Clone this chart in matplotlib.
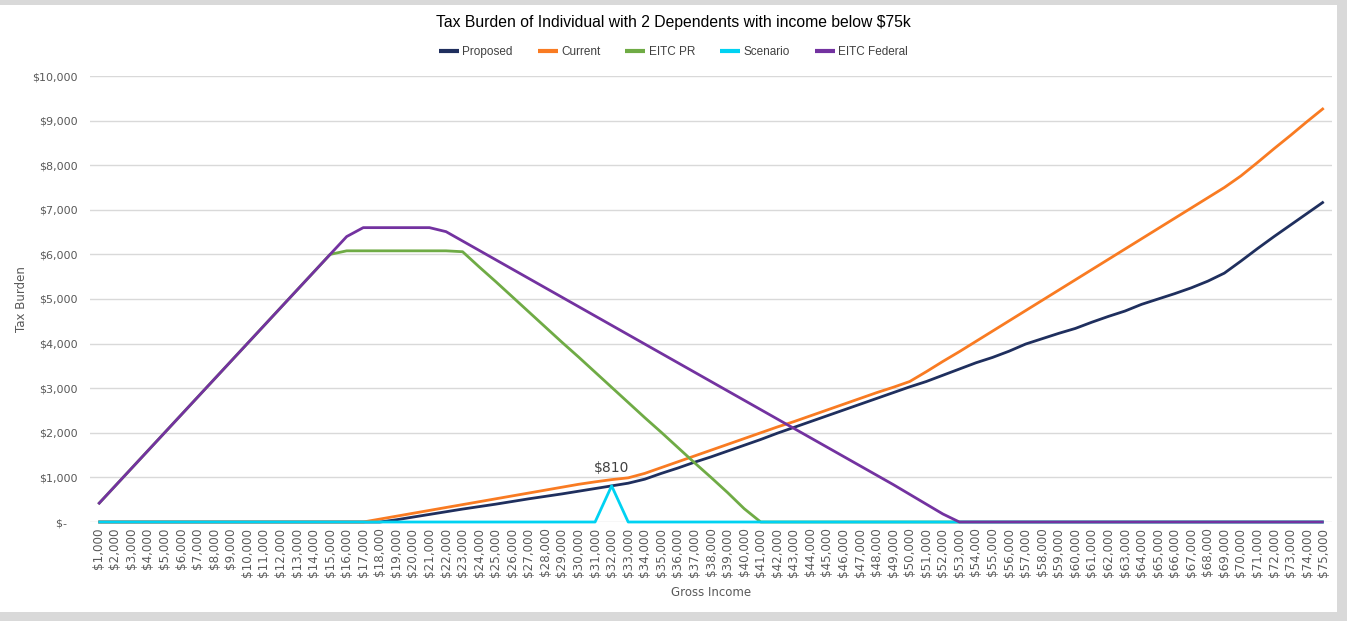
import numpy as np
import matplotlib.pyplot as plt
from matplotlib.patches import Rectangle
from matplotlib.ticker import FuncFormatter

# 収入区分 $1,000 - $75,000
income = list(range(1000, 76000, 1000))

##系列データ
proposed = [0]*17 + [0, 50, 110, 170, 230, 290, 345, 400, 460, 520, 575, 630, 690, 750, 810,
                     870, 960, 1090, 1210, 1340, 1460, 1590, 1720, 1850, 1990, 2120, 2250, 2380,
                     2510, 2640, 2770, 2900, 3030, 3150, 3290, 3430, 3570, 3690, 3830, 3990, 4110,
                     4230, 4340, 4480, 4610, 4730, 4880, 5000, 5120, 5250, 5400, 5580, 5850, 6130,
                     6400, 6660, 6920, 7180]
current = [0]*16 + [0, 65, 130, 195, 260, 325, 390, 455, 520, 585, 650, 715, 780, 845, 900, 950,
                    990, 1090, 1220, 1350, 1480, 1610, 1740, 1870, 2000, 2130, 2250, 2380, 2510,
                    2640, 2770, 2900, 3020, 3150, 3370, 3600, 3820, 4050, 4280, 4510, 4740, 4970,
                    5200, 5430, 5660, 5890, 6120, 6350, 6580, 6810, 7040, 7270, 7500, 7760, 8060,
                    8370, 8670, 8980, 9280]
eitc_pr = [400, 800, 1200, 1600, 2000, 2400, 2800, 3200, 3600, 4000, 4400, 4800, 5200, 5600, 6000,
           6080, 6080, 6080, 6080, 6080, 6080, 6080, 6060, 5720, 5390, 5050, 4710, 4370, 4030,
           3700, 3360, 3020, 2680, 2340, 2010, 1670, 1330, 1000, 660, 300, 0] + [0]*34
scenario = [0]*31 + [810] + [0]*43
eitc_fed = [400, 800, 1200, 1600, 2000, 2400, 2800, 3200, 3600, 4000, 4400, 4800, 5200, 5600, 6000,
            6400, 6600, 6600, 6600, 6600, 6600, 6510, 6300, 6090, 5880, 5670, 5460, 5250, 5040,
            4830, 4620, 4410, 4200, 3990, 3780, 3570, 3360, 3150, 2940, 2730, 2520, 2310, 2100,
            1890, 1680, 1470, 1260, 1050, 840, 620, 400, 180, 0] + [0]*22

series = [('Proposed', proposed, '#1f2f5e'),
          ('Current', current, '#f97b22'),
          ('EITC PR', eitc_pr, '#6fab45'),
          ('Scenario', scenario, '#00d2f2'),
          ('EITC Federal', eitc_fed, '#7332a0')]

narrow = ['Liberation Sans', 'DejaVu Sans']

fig = plt.figure(figsize=(13.47, 6.21), dpi=100, facecolor='#d9d9d9')
fig.patches.append(Rectangle((0, 9/621), 1337/1347, 1 - 14/621, transform=fig.transFigure,
                             facecolor='white', edgecolor='none', zorder=-1))
ax = fig.add_axes([90/1347, 1 - 522/621, 1242/1347, 446/621])

x = np.arange(len(income))
for name, vals, col in series:
    ax.plot(x, vals, color=col, lw=2.0, label=name, solid_capstyle='butt', clip_on=False)

#データラベル
ax.annotate('$810', (31, 810), xytext=(0, 8), textcoords='offset points',
            ha='center', va='bottom', fontsize=10, color='#404040')

ax.set_xlim(-0.5, len(income) - 0.5)
ax.set_ylim(0, 10000)
ax.set_yticks(range(0, 10001, 1000))
ax.yaxis.set_major_formatter(FuncFormatter(lambda v, p: '$-   ' if v == 0 else f'${v:,.0f}'))
ax.set_xticks(x)
ax.set_xticklabels([f'${v:,}' for v in income], rotation=90)
ax.tick_params(length=0, labelcolor='#595959')
ax.tick_params(axis='y', pad=9, labelsize=8)
ax.tick_params(axis='x', pad=4, labelsize=8.6)
ax.grid(axis='y', color='#d9d9d9', lw=1)
ax.set_axisbelow(True)
for s in ax.spines.values():
    s.set_visible(False)

ax.set_xlabel('Gross Income', fontsize=8.5, color='#595959', labelpad=7)
ax.set_ylabel('Tax Burden', fontsize=8.5, color='#595959', labelpad=3)

fig.text(0.5, 1 - 22/621, 'Tax Burden of Individual with 2 Dependents with income below $75k',
         ha='center', va='center', fontsize=11.3, family=narrow, color='#000000')
leg = fig.legend(loc='center', bbox_to_anchor=(0.5, 1 - 52/621), ncol=5, frameon=False,
                 prop={'family': narrow, 'size': 8.5}, handlelength=1.7, columnspacing=2.1,
                 handletextpad=0.3)
for t in leg.get_texts():
    t.set_color('#404040')
for h in leg.get_lines():
    h.set_linewidth(3)

fig.savefig('out.png', dpi=100, facecolor=fig.get_facecolor())
